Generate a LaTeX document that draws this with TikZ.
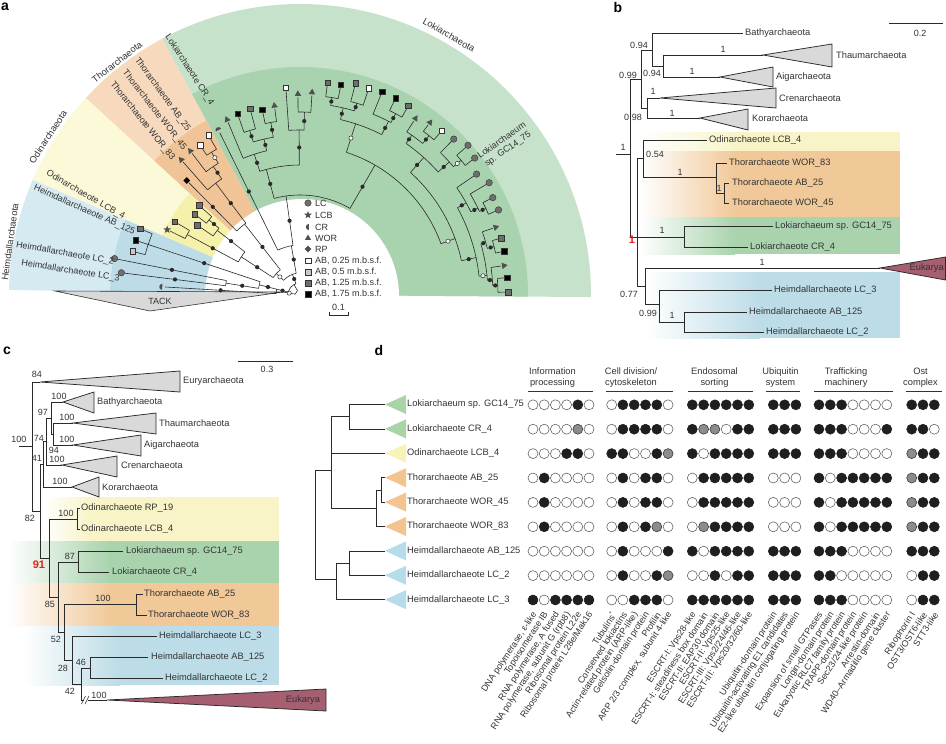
\documentclass[tikz,border=0pt]{standalone}
\usepackage{fontspec}
\setmainfont{Liberation Sans}
\usetikzlibrary{shapes.geometric}
\definecolor{ink}{HTML}{333333}
\definecolor{treeink}{HTML}{2A2A2A}
\definecolor{gL}{HTML}{C7E2CB}
\definecolor{gD}{HTML}{A8D3AE}
\definecolor{oL}{HTML}{F7DABE}
\definecolor{oD}{HTML}{F0C496}
\definecolor{yL}{HTML}{FBF9D8}
\definecolor{yD}{HTML}{F6F1AA}
\definecolor{bL}{HTML}{D6EAF2}
\definecolor{bD}{HTML}{BDDCE8}
\definecolor{bandY}{HTML}{F8F4C8}
\definecolor{bandO}{HTML}{F1C999}
\definecolor{bandG}{HTML}{A9D3AD}
\definecolor{bandB}{HTML}{BCDCE7}
\definecolor{trigrey}{HTML}{D9D9D9}
\definecolor{euk}{HTML}{A65F70}
\definecolor{symgrey}{HTML}{6E6E6E}
\definecolor{symdark}{HTML}{505050}
\definecolor{sqL}{HTML}{C9C9C9}
\definecolor{sqD}{HTML}{6E6E6E}
\definecolor{dG}{HTML}{A8D4A8}
\definecolor{dY}{HTML}{F8F3B8}
\definecolor{dO}{HTML}{F3C48F}
\definecolor{dB}{HTML}{B7DCE9}
\definecolor{redlab}{HTML}{E0201C}
\tikzset{
  tl/.style={draw=treeink, line width=0.6pt},
  br/.style={draw=treeink, line width=0.75pt},
  clade/.style={draw=treeink, line width=0.75pt, fill=trigrey},
  lbl/.style={font=\fontsize{9.3}{11}\selectfont, text=ink, inner sep=0pt},
  lbla/.style={font=\fontsize{9}{10.5}\selectfont, text=ink, inner sep=0pt},
  num/.style={font=\fontsize{9}{10}\selectfont, text=ink, inner sep=0pt},
  rednum/.style={font=\fontsize{11}{11}\selectfont\bfseries, text=redlab, inner sep=0pt},
  plet/.style={font=\fontsize{14}{14}\selectfont\bfseries, inner sep=0pt},
  symC/.style={circle, fill=symgrey, draw=ink, line width=0.4pt, inner sep=0pt, minimum size=6.5},
  symS/.style={rectangle, draw=ink, line width=0.4pt, inner sep=0pt, minimum size=5.5},
  symT/.style={regular polygon, regular polygon sides=3, fill=symdark, inner sep=0pt, minimum size=7.5},
  symD/.style={diamond, fill=black, inner sep=0pt, minimum size=7},
  symStar/.style={star, star points=5, star point ratio=2.3, fill=symdark, inner sep=0pt, minimum size=8},
  dotO/.style={circle, draw=ink!80, fill=white, line width=0.55pt, inner sep=0pt, minimum size=10},
  dotB/.style={circle, draw=black!88, fill=black!88, line width=0.55pt, inner sep=0pt, minimum size=10},
  dotG/.style={circle, draw=ink, fill=black!45, line width=0.55pt, inner sep=0pt, minimum size=10},
  hline/.style={draw=ink, line width=1pt},
}
\newcommand\fan[4]{\fill[#1] (0,0) -- (#2:#4) arc[start angle=#2,end angle=#3,radius=#4] -- cycle;}
\newcommand\tArc[3]{\draw[tl] (#1:#3) arc[start angle=#1,end angle=#2,radius=#3];}
\newcommand\tRad[3]{\draw[tl] (#1:#2) -- (#1:#3);}
\newcommand\tRadB[3]{\draw[tl] (#1:#2) -- (#1:#3); \fill[treeink] (#1:{(#2+#3)/2}) circle (2.1);}
\newcommand\tRadW[3]{\draw[tl] (#1:#2) -- (#1:#3); \filldraw[fill=white,draw=treeink,line width=0.5pt] (#1:{(#2+#3)/2}) circle (2.1);}
\newcommand\tipC[2]{\node[symC] at (#1:#2) {};}
\newcommand\tipS[3]{\node[symS, fill=#3] at (#1:#2) {};}
\newcommand\tipT[2]{\node[symT, rotate=#1-90] at (#1:#2) {};}
\newcommand\tipD[2]{\node[symD] at (#1:#2) {};}
\newcommand\tipStar[2]{\node[symStar] at (#1:#2) {};}
\newcommand\tipCR[2]{\begin{scope}[shift={(#1:#2)}, rotate=#1-180]\fill[symdark] (0,3) arc[start angle=90,end angle=270,radius=3] -- cycle;\end{scope}}
\begin{document}
\begin{tikzpicture}[x=1pt,y=1pt]
\useasboundingbox (0,0) rectangle (946,-744);
\fill[white] (0,0) rectangle (946,-744);

%% ================= panel a =================
\node[plet] (la) at (5,-7) {a};
\begin{scope}[shift={(300,-295)}]
  \fan{gL}{-0.4}{118.3}{291}
  \fan{gD}{-0.4}{118.3}{228}
  \fan{oL}{118.3}{137.4}{291}
  \fan{oD}{118.3}{137.4}{198}
  \fan{yL}{137.4}{156.7}{291}
  \fan{yD}{137.4}{156.7}{150}
  \fan{bL}{156.7}{179}{291}
  \fan{bD}{156.7}{179}{190}
  \fill[white] (2,-1) circle (97);
\end{scope}
\filldraw[fill=trigrey, draw=ink, line width=0.6pt] (55,-291) -- (150,-311) -- (283,-292) -- cycle;
\node[lbla] (tack) at (160,-301) {TACK};

\begin{scope}[shift={(300,-295)}]
  % root and deep nodes
  \tArc{120}{170}{5}
  \tRadW{170}{5}{17}
  \tRad{120}{5}{12}
  \tArc{110}{166}{12}
  % Heimdall
  \tRadB{166}{12}{24}
  \tArc{166}{176.6}{24}
  \tRadB{176.6}{24}{135}
  \tRadB{166}{24}{42}
  \tArc{161.6}{170.9}{42}
  \tRadB{170.9}{42}{75}
  \tArc{168.9}{172.9}{75}
  \tRadB{168.9}{75}{186}
  \tRadB{172.9}{75}{177}
  \tRadB{161.6}{42}{160}
  \tArc{157.5}{165.4}{160}
  \tRad{157.5}{160}{170} \tRad{161.6}{160}{170} \tRad{165.4}{160}{170}
  % Odin + Thor
  \tRadB{110}{12}{22}
  \tArc{100}{138}{22}
  \tRadW{138}{22}{32}
  \tArc{128}{147}{32}
  \tRadB{147}{32}{70}
  \tArc{142}{151.8}{70}
  \tRadB{151.8}{70}{128}
  \tArc{149.7}{153.8}{128}
  \tRad{153.8}{128}{145} \tRad{149.7}{128}{142}
  \tRadB{142}{70}{105}
  \tArc{140.5}{145.8}{105}
  \tRad{145.8}{105}{121}
  \tRadB{140.5}{105}{118}
  \tArc{138.4}{142.5}{118}
  \tRad{142.5}{118}{130} \tRad{138.4}{118}{132}
  \tRadB{128}{32}{90}
  \tArc{127}{134.7}{90}
  \tRadB{134.7}{90}{158}
  \tRadB{127}{90}{140}
  \tArc{124}{131.3}{140}
  \tRad{131.3}{140}{177}
  \tRadB{124}{140}{155}
  \tArc{121.8}{127.3}{155}
  \tRad{127.3}{155}{178}
  \tRadW{121.8}{155}{168}
  \tArc{119.8}{123.7}{168}
  \tRad{123.7}{168}{177} \tRad{119.8}{168}{181}
  % Loki
  \tRadB{100}{22}{50}
  \tArc{98}{116.3}{50}
  \tRadB{116.3}{50}{181}
  \tRadB{98}{50}{100}
  \tArc{60}{105}{100}
  \tRadB{105}{100}{130}
  \tArc{90.3}{108}{130}
  \tRadB{108}{130}{148}
  \tArc{103}{112.6}{148}
  \tRad{112.6}{148}{187}
  \tRadB{103}{148}{160}
  \tArc{99.6}{107}{160}
  \tRadB{107}{160}{172}
  \tArc{105}{109}{172}
  \tRad{109}{172}{189} \tRad{105}{172}{190}
  \tRadB{99.6}{160}{175}
  \tArc{97.7}{101.5}{175}
  \tRad{101.5}{175}{186} \tRad{97.7}{175}{188}
  \tRadB{90.3}{130}{165}
  \tArc{88.6}{93.9}{165}
  \tRad{93.9}{165}{205}
  \tRadB{88.6}{165}{183}
  \tArc{86.6}{90.6}{183}
  \tRad{90.6}{183}{198} \tRad{86.6}{183}{200}
  \tRadB{60}{100}{150}
  \tArc{20}{72}{150}
  \tRadW{72}{150}{180}
  \tArc{63}{77}{180}
  \tRadB{77}{180}{192}
  \tArc{73.5}{80.8}{192}
  \tRadB{80.8}{192}{200}
  \tArc{79}{82.6}{200}
  \tRad{82.6}{200}{211} \tRad{79}{200}{211}
  \tRadB{73.5}{192}{200}
  \tArc{71.6}{75.3}{200}
  \tRad{75.3}{200}{216} \tRad{71.6}{200}{215}
  \tRadB{63}{180}{195}
  \tArc{62.2}{68}{195}
  \tRad{68}{195}{216}
  \tRadB{62.2}{195}{205}
  \tArc{60.2}{64.1}{205}
  \tRad{64.1}{205}{216} \tRad{60.2}{205}{215}
  \tRadW{20}{150}{165}
  \tArc{12}{48}{165}
  \tRadB{48}{165}{185}
  \tArc{41.7}{55}{185}
  \tRadB{55}{185}{195}
  \tArc{51}{56.8}{195}
  \tRad{56.8}{195}{208}
  \tRadB{51}{195}{205}
  \tArc{49.2}{53}{205}
  \tRad{53}{205}{213} \tRad{49.2}{205}{214}
  \tRadB{41.7}{185}{200}
  \tArc{39.9}{45.4}{200}
  \tRad{45.4}{200}{216}
  \tRadW{39.9}{200}{210}
  \tArc{38.1}{41.7}{210}
  \tRad{41.7}{210}{222} \tRad{38.1}{210}{219}
  \tRadB{12}{165}{180}
  \tArc{6}{29}{180}
  \tRadB{29}{180}{190}
  \tArc{26}{34.4}{190}
  \tRad{34.4}{190}{211}
  \tRadB{26}{190}{198}
  \tArc{25}{30.7}{198}
  \tRad{30.7}{198}{217}
  \tRadB{25}{198}{205}
  \tArc{23.2}{26.8}{205}
  \tRad{26.8}{205}{213} \tRad{23.2}{205}{213}
  \tRadW{6}{180}{188}
  \tArc{4.5}{15.8}{188}
  \tRadB{15.8}{188}{193}
  \tArc{14}{19.1}{193}
  \tRad{19.1}{193}{204}
  \tRadB{14}{193}{200}
  \tArc{12.1}{15.8}{200}
  \tRad{15.8}{200}{206} \tRad{12.1}{200}{206}
  \tRadB{4.5}{188}{193}
  \tArc{2.8}{8.2}{193}
  \tRad{8.2}{193}{203}
  \tRadB{2.8}{193}{198}
  \tArc{0.8}{4.8}{198}
  \tRad{4.8}{198}{205} \tRad{0.8}{198}{205}
  % tips
  \tipCR{176.6}{138}
  \tipC{172.9}{180} \tipC{168.9}{189}
  \tipS{165.4}{173}{sqL} \tipS{161.6}{173}{black} \tipS{157.5}{173}{sqD}
  \tipStar{153.8}{148}
  \tipS{149.7}{145}{sqD} \tipS{145.8}{124}{sqD} \tipS{142.5}{133}{sqD} \tipS{138.4}{135}{sqD}
  \tipD{134.7}{161}
  \tipT{131.3}{180} \tipT{127.3}{181}
  \tipS{123.7}{180}{white} \tipS{119.8}{184}{white}
  \tipCR{116.3}{184}
  \tipT{112.6}{190}
  \tipS{109}{192}{black} \tipS{105}{193}{sqD} \tipS{101.5}{189}{black}
  \tipT{97.7}{191}
  \tipS{93.9}{208}{white}
  \tipT{90.6}{201} \tipT{86.6}{203}
  \tipS{82.6}{214}{sqD} \tipS{79}{214}{black} \tipS{75.3}{219}{sqD} \tipS{71.6}{218}{white}
  \tipS{68}{219}{black} \tipS{64.1}{219}{black} \tipS{60.2}{218}{sqD}
  \tipT{56.8}{211} \tipT{53}{216} \tipS{49.2}{217}{white}
  \tipC{45.4}{219} \tipC{41.7}{225} \tipC{38.1}{222}
  \tipC{34.4}{214} \tipC{30.7}{220} \tipC{26.8}{216} \tipC{23.2}{216}
  \tipT{19.1}{207} \tipS{15.8}{209}{sqD} \tipS{12.1}{209}{black}
  \tipT{8.2}{206} \tipS{4.8}{208}{black} \tipS{0.8}{208}{sqD}
\end{scope}

% clade labels (panel a)
\node[lbl, rotate=82] (aHeim) at (10,-242) {Heimdallarchaeota};
\node[lbl, rotate=57] (aOdin) at (48,-137) {Odinarchaeota};
\node[lbl, rotate=38] (aThor) at (117,-62) {Thorarchaeota};
\node[lbl, rotate=-30] (aLoki) at (449,-35) {Lokiarchaeota};
% tip labels (panel a)
\node[lbla, rotate=-57] (aCR4) at (189.5,-70) {Lokiarchaeote CR\_4};
\node[lbla, rotate=-54] (aAB25) at (162.5,-94.5) {Thorarchaeote AB\_25};
\node[lbla, rotate=-52] (aW45) at (154.5,-110) {Thorarchaeote WOR\_45};
\node[lbla, rotate=-51.5] (aW83) at (142.5,-121) {Thorarchaeote WOR\_83};
\node[lbla, rotate=-30] (aLCB) at (85.5,-195) {Odinarchaeote LCB\_4};
\node[lbla, rotate=-24] (aAB125) at (84.5,-210) {Heimdallarchaeote AB\_125};
\node[lbla, rotate=-10] (aLC2) at (65,-253.5) {Heimdallarchaeote LC\_2};
\node[lbla, rotate=-9] (aLC3) at (70.5,-271) {Heimdallarchaeote LC\_3};
\node[lbla, rotate=35, align=center] (aGC) at (505,-145) {Lokiarchaeum\\sp. GC14\_75};
% legend
\node[symC] (k1) at (308,-203) {};
\node[symStar] (k2) at (308,-215) {};
\begin{scope}[shift={(308,-227)}]\fill[symdark] (0.8,3) arc[start angle=90,end angle=270,radius=3] -- cycle;\end{scope}
\node[symT, minimum size=7] (k4) at (308,-238) {};
\node[diamond, fill=symdark, inner sep=0pt, minimum size=7] (k5) at (308,-249) {};
\node[symS, fill=white] (k6) at (308,-260.5) {};
\node[symS, fill=sqL] (k7) at (308,-272) {};
\node[symS, fill=sqD] (k8) at (308,-283) {};
\node[symS, fill=black] (k9) at (308,-294) {};
\node[lbla, anchor=west] at (315,-203) {LC};
\node[lbla, anchor=west] at (315,-215) {LCB};
\node[lbla, anchor=west] at (315,-227) {CR};
\node[lbla, anchor=west] at (315,-238) {WOR};
\node[lbla, anchor=west] at (315,-249) {RP};
\node[lbla, anchor=west] at (315,-260.5) {AB, 0.25 m.b.s.f.};
\node[lbla, anchor=west] at (315,-272) {AB, 0.5 m.b.s.f.};
\node[lbla, anchor=west] at (315,-283) {AB, 1.25 m.b.s.f.};
\node[lbla, anchor=west] at (315,-294) {AB, 1.75 m.b.s.f.};
\draw[br, line width=0.7pt] (329,-312) -- (329,-315) -- (348,-315) -- (348,-312);
\node[num] (sa) at (338.5,-307) {0.1};

%% ================= panel b =================
\node[plet] (lb) at (618,-7) {b};
\draw[br] (889,-23) -- (943,-23);
\node[num] (sb) at (920,-33) {0.2};
% bands
\shade[left color=white, right color=bandY] (640,-132) rectangle (735,-151);
\fill[bandY] (734.5,-132) rectangle (900,-151);
\shade[left color=white, right color=bandO] (640,-151) rectangle (735,-217);
\fill[bandO] (734.5,-151) rectangle (900,-217);
\shade[left color=white, right color=bandG] (640,-217) rectangle (735,-254);
\fill[bandG] (734.5,-217) rectangle (900,-254);
\shade[left color=white, right color=bandB] (645,-272) rectangle (760,-338);
\fill[bandB] (759.5,-272) rectangle (900,-338);
% tree
\draw[br] (616,-154) -- (630,-154);
\draw[br] (630,-79) -- (630,-237) -- (637,-237);
\draw[br] (630,-79) -- (641,-79);
\draw[br] (641,-50) -- (641,-108);
\draw[br] (641,-50) -- (652,-50); \draw[br] (652,-33) -- (652,-66);
\draw[br] (652,-33) -- (743,-33);
\draw[br] (652,-66) -- (663,-66); \draw[br] (663,-55) -- (663,-77);
\draw[br] (663,-55) -- (763,-55); \filldraw[clade] (763,-55) -- (832,-44) -- (832,-67) -- cycle;
\draw[br] (663,-77) -- (720,-77); \filldraw[clade] (720,-77) -- (773,-67) -- (773,-87) -- cycle;
\draw[br] (641,-108) -- (647,-108); \draw[br] (647,-98) -- (647,-118);
\draw[br] (647,-98) -- (660,-98); \filldraw[clade] (660,-98) -- (776,-88) -- (776,-108) -- cycle;
\draw[br] (647,-118) -- (700,-118); \filldraw[clade] (700,-118) -- (748,-109) -- (748,-130) -- cycle;
\draw[br] (637,-158) -- (637,-286);
\draw[br] (637,-158) -- (643,-158); \draw[br] (643,-140) -- (643,-177);
\draw[br] (643,-140) -- (707,-140);
\draw[br] (643,-177) -- (716,-177); \draw[br] (716,-163) -- (716,-193);
\draw[br] (716,-163) -- (727,-163);
\draw[br] (716,-193) -- (724,-193); \draw[br] (724,-183) -- (724,-203);
\draw[br] (724,-183) -- (729,-183); \draw[br] (724,-203) -- (729,-203);
\draw[br] (637,-237) -- (684,-237); \draw[br] (684,-226) -- (684,-247);
\draw[br] (684,-226) -- (773,-226); \draw[br] (684,-247) -- (748,-247);
\draw[br] (637,-286) -- (645,-286); \draw[br] (645,-268) -- (645,-304);
\draw[br] (645,-268) -- (880,-268);
\filldraw[draw=treeink, line width=0.75pt, fill=euk] (880,-268) -- (945.5,-257) -- (945.5,-280) -- cycle;
\draw[br] (645,-304) -- (659,-304); \draw[br] (659,-290) -- (659,-322);
\draw[br] (659,-290) -- (772,-290);
\draw[br] (659,-322) -- (684,-322); \draw[br] (684,-312) -- (684,-332);
\draw[br] (684,-312) -- (747,-312); \draw[br] (684,-332) -- (764,-332);
% labels
\node[lbl, anchor=west] at (745,-33) {Bathyarchaeota};
\node[lbl, anchor=west] at (836,-55) {Thaumarchaeota};
\node[lbl, anchor=west] at (776,-77) {Aigarchaeota};
\node[lbl, anchor=west] at (779,-98) {Crenarchaeota};
\node[lbl, anchor=west] at (752,-118) {Korarchaeota};
\node[lbl, anchor=west] at (709,-140) {Odinarchaeote LCB\_4};
\node[lbl, anchor=west] at (729,-163) {Thorarchaeote WOR\_83};
\node[lbl, anchor=west] at (732,-183) {Thorarchaeote AB\_25};
\node[lbl, anchor=west] at (732,-203) {Thorarchaeote WOR\_45};
\node[lbl, anchor=west] at (775,-226) {Lokiarchaeum sp. GC14\_75};
\node[lbl, anchor=west] at (750,-247) {Lokiarchaeote CR\_4};
\node[lbl, anchor=east] at (944,-268) {Eukarya};
\node[lbl, anchor=west] at (774,-290) {Heimdallarchaeote LC\_3};
\node[lbl, anchor=west] at (749,-312) {Heimdallarchaeote AB\_125};
\node[lbl, anchor=west] at (766,-332) {Heimdallarchaeote LC\_2};
\node[num] at (623,-147) {1};
\node[num] at (639,-45) {0.94};
\node[num] at (628,-75) {0.99};
\node[num] at (652,-73) {0.94};
\node[num] at (723,-49) {1};
\node[num] at (692,-71) {1};
\node[num] at (653,-91) {1};
\node[num] at (633,-117) {0.98};
\node[num] at (672,-113) {1};
\node[num] at (655,-154) {0.54};
\node[num] at (680,-172) {1};
\node[num] at (719,-188) {1};
\node[num] at (662,-230) {1};
\node[rednum] at (632,-240) {1};
\node[num] at (629,-294) {0.77};
\node[num] at (762,-262) {1};
\node[num] at (648,-313) {0.99};
\node[num] at (672,-315) {1};

%% ================= panel c =================
\node[plet] (lc) at (7,-351) {c};
\draw[br] (238,-361) -- (293,-361);
\node[num] (sc) at (267,-369) {0.3};
% bands
\shade[left color=white, right color=bandY] (43,-497) rectangle (90,-541);
\fill[bandY] (89.5,-497) rectangle (279,-541);
\shade[left color=white, right color=bandG] (8,-541) rectangle (110,-583);
\fill[bandG] (109.5,-541) rectangle (279,-583);
\shade[left color=white, right color=bandO] (8,-583) rectangle (110,-626);
\fill[bandO] (109.5,-583) rectangle (279,-626);
\shade[left color=white, right color=bandB] (23,-626) rectangle (120,-685);
\fill[bandB] (119.5,-626) rectangle (279,-685);
% tree
\draw[br] (19,-446) -- (32,-446);
\draw[br] (32,-382) -- (32,-511);
\draw[br] (32,-382) -- (40,-382); \filldraw[clade] (40,-382) -- (180,-371) -- (180,-392) -- cycle;
\draw[br] (32,-511) -- (40,-511); \draw[br] (40,-464) -- (40,-558);
\draw[br] (40,-464) -- (43,-464); \draw[br] (43,-441) -- (43,-487);
\draw[br] (43,-487) -- (72,-487); \filldraw[clade] (72,-487) -- (99,-477) -- (99,-497) -- cycle;
\draw[br] (43,-441) -- (46,-441); \draw[br] (46,-418) -- (46,-465);
\draw[br] (46,-465) -- (62,-465); \filldraw[clade] (62,-465) -- (117,-456) -- (117,-477) -- cycle;
\draw[br] (46,-418) -- (51,-418); \draw[br] (51,-402) -- (51,-434);
\draw[br] (51,-402) -- (63,-402); \filldraw[clade] (63,-402) -- (94,-392) -- (94,-413) -- cycle;
\draw[br] (51,-434) -- (53,-434); \draw[br] (53,-423) -- (53,-445);
\draw[br] (53,-423) -- (73,-423); \filldraw[clade] (73,-423) -- (156,-413) -- (156,-434) -- cycle;
\draw[br] (53,-445) -- (73,-445); \filldraw[clade] (73,-445) -- (141,-435) -- (141,-456) -- cycle;
\draw[br] (40,-558) -- (49,-558); \draw[br] (49,-519) -- (49,-597);
\draw[br] (49,-519) -- (77,-519); \draw[br] (77,-508) -- (77,-529);
\draw[br] (77,-508) -- (80,-508); \draw[br] (77,-529) -- (80,-529);
\draw[br] (49,-597) -- (58,-597); \draw[br] (58,-562) -- (58,-632);
\draw[br] (58,-562) -- (78,-562); \draw[br] (78,-551) -- (78,-572);
\draw[br] (78,-551) -- (123,-551); \draw[br] (78,-572) -- (109,-572);
\draw[br] (58,-632) -- (64,-632); \draw[br] (64,-604) -- (64,-660);
\draw[br] (64,-604) -- (136,-604); \draw[br] (136,-594) -- (136,-615);
\draw[br] (136,-594) -- (143,-594); \draw[br] (136,-615) -- (147,-615);
\draw[br] (64,-660) -- (72,-660); \draw[br] (72,-636) -- (72,-684);
\draw[br] (72,-636) -- (157,-636);
\draw[br] (72,-684) -- (81,-684); \draw[br] (81,-668) -- (81,-700);
\draw[br] (81,-668) -- (90,-668); \draw[br] (90,-657) -- (90,-678);
\draw[br] (90,-657) -- (148,-657); \draw[br] (90,-678) -- (163,-678);
\draw[br] (81,-700) -- (107,-700);
\fill[white] (84,-697) rectangle (87.5,-703);
\draw[br, line width=0.6pt] (81.5,-704) -- (85.5,-696); \draw[br, line width=0.6pt] (85,-704) -- (89,-696);
\filldraw[draw=treeink, line width=0.75pt, fill=euk] (107,-700) -- (326,-689) -- (326,-711) -- cycle;
% labels
\node[lbl, anchor=west] at (183,-381) {Euryarchaeota};
\node[lbl, anchor=west] at (97,-402) {Bathyarchaeota};
\node[lbl, anchor=west] at (159,-423) {Thaumarchaeota};
\node[lbl, anchor=west] at (144,-445) {Aigarchaeota};
\node[lbl, anchor=west] at (121,-465) {Crenarchaeota};
\node[lbl, anchor=west] at (102,-487) {Korarchaeota};
\node[lbl, anchor=west] at (81,-508) {Odinarchaeote RP\_19};
\node[lbl, anchor=west] at (81,-529) {Odinarchaeote LCB\_4};
\node[lbl, anchor=west] at (126,-551) {Lokiarchaeum sp. GC14\_75};
\node[lbl, anchor=west] at (112,-572) {Lokiarchaeote CR\_4};
\node[lbl, anchor=west] at (144,-594) {Thorarchaeote AB\_25};
\node[lbl, anchor=west] at (148,-615) {Thorarchaeote WOR\_83};
\node[lbl, anchor=west] at (159,-636) {Heimdallarchaeote LC\_3};
\node[lbl, anchor=west] at (151,-657) {Heimdallarchaeote AB\_125};
\node[lbl, anchor=west] at (165,-678) {Heimdallarchaeote LC\_2};
\node[lbl] at (303,-700) {Eukarya};
\node[num] at (19,-439) {100};
\node[num] at (37,-374) {84};
\node[num] at (30,-518) {82};
\node[num] at (37,-458) {41};
\node[num] at (60,-481) {100};
\node[num] at (39,-438) {74};
\node[num] at (57,-459) {100};
\node[num] at (43,-412) {97};
\node[num] at (59,-396) {100};
\node[num] at (54,-450) {94};
\node[num] at (67,-417) {100};
\node[num] at (67,-439) {100};
\node[rednum] at (39,-565) {91};
\node[num] at (66,-513) {100};
\node[num] at (50,-604) {85};
\node[num] at (70,-556) {87};
\node[num] at (56,-639) {52};
\node[num] at (103,-598) {100};
\node[num] at (63,-668) {28};
\node[num] at (70,-691) {42};
\node[num] at (81,-662) {46};
\node[num] at (99,-695) {100};

%% ================= panel d =================
\node[plet] (ld) at (379,-350) {d};
% tree
\draw[br] (349,-404.5) -- (349,-428.9);
\draw[br] (349,-404.5) -- (385,-404.5); \draw[br] (349,-428.9) -- (385,-428.9);
\draw[br] (331,-453.3) -- (385,-453.3);
\draw[br] (381,-477.7) -- (381,-502.1);
\draw[br] (381,-477.7) -- (385,-477.7); \draw[br] (381,-502.1) -- (385,-502.1);
\draw[br] (376,-489.9) -- (376,-526.5);
\draw[br] (376,-489.9) -- (381,-489.9); \draw[br] (376,-526.5) -- (385,-526.5);
\draw[br] (331,-508.2) -- (376,-508.2);
\draw[br] (331,-416.7) -- (331,-508.2);
\draw[br] (331,-416.7) -- (349,-416.7);
\draw[br] (315,-470) -- (315,-579);
\draw[br] (315,-470) -- (331,-470);
\draw[br] (349,-550.9) -- (349,-575.3);
\draw[br] (349,-550.9) -- (385,-550.9); \draw[br] (349,-575.3) -- (385,-575.3);
\draw[br] (336,-563.1) -- (336,-599.7);
\draw[br] (336,-563.1) -- (349,-563.1);
\draw[br] (336,-599.7) -- (385,-599.7);
\draw[br] (315,-579) -- (336,-579);
% triangles and names
\foreach \nm/\cl [count=\i] in {Lokiarchaeum sp. GC14\_75/dG, Lokiarchaeote CR\_4/dG, Odinarchaeote LCB\_4/dY, Thorarchaeote AB\_25/dO, Thorarchaeote WOR\_45/dO, Thorarchaeote WOR\_83/dO, Heimdallarchaeote AB\_125/dB, Heimdallarchaeote LC\_2/dB, Heimdallarchaeote LC\_3/dB}{
  \pgfmathsetmacro\ry{404.5+24.4*(\i-1)}
  \fill[\cl] (385,-\ry) -- (406,-\ry+9.5) -- (406,-\ry-9.5) -- cycle;
  \node[lbl, anchor=west] (dn\i) at (407,-\ry) {\nm};
}
% headers
\node[lbl, align=center] (h1) at (552.5,-377.5) {Information\\processing};
\node[lbl, align=center] (h2) at (631,-377.5) {Cell division/\\cytoskeleton};
\node[lbl, align=center] (h3) at (714.5,-377.5) {Endosomal\\sorting};
\node[lbl, align=center] (h4) at (780.5,-377.5) {Ubiquitin\\system};
\node[lbl, align=center] (h5) at (846,-377.5) {Trafficking\\machinery};
\node[lbl, align=center] (h6) at (920.5,-377.5) {Ost\\complex};
\draw[hline] (528,-391) -- (593,-391);
\draw[hline] (606,-391) -- (673,-391);
\draw[hline] (688,-391) -- (753,-391);
\draw[hline] (766,-391) -- (800,-391);
\draw[hline] (814,-391) -- (893,-391);
\draw[hline] (906,-391) -- (942,-391);
% dot matrix
\foreach \row [count=\i] in {
 {0,0,0,0,1,0, 0,1,1,1,1,0, 1,1,1,1,1,1, 1,1,1, 1,1,1,0,0,0,0, 1,1,1},
 {0,0,0,0,2,0, 0,1,1,1,1,0, 1,2,2,0,1,1, 1,1,1, 1,1,1,0,0,0,1, 1,1,0},
 {0,0,0,1,1,0, 1,1,0,0,1,2, 1,0,1,1,1,1, 1,1,1, 1,1,1,0,0,0,0, 2,1,1},
 {0,1,0,0,0,0, 0,1,0,1,1,0, 0,1,1,1,1,1, 0,0,0, 1,0,1,1,1,1,1, 2,1,1},
 {0,1,0,0,0,0, 0,1,0,1,1,0, 0,1,1,1,1,1, 0,0,0, 1,0,1,1,1,1,1, 2,1,1},
 {0,1,0,0,0,0, 0,1,0,1,2,0, 0,2,1,1,1,1, 0,0,0, 1,0,1,1,1,1,1, 2,1,1},
 {0,0,0,0,0,0, 0,1,0,0,0,1, 1,0,1,1,1,1, 1,1,1, 1,1,1,0,0,0,0, 1,1,1},
 {0,0,0,0,0,0, 0,1,0,0,1,2, 0,0,1,0,1,1, 1,1,1, 1,1,0,0,0,0,0, 0,1,1},
 {1,0,1,1,1,1, 0,0,1,1,1,0, 1,1,1,1,1,1, 1,1,1, 1,1,1,0,0,0,0, 0,1,1}}{
  \foreach \v [count=\j] in \row {
    \pgfmathsetmacro\cx{{533,544.2,555.4,566.6,577.8,589,611.7,622.9,634.2,645.5,656.8,668.1,692.3,703.6,714.9,726.2,737.5,748.8,773.3,784.6,795.9,819,830.3,841.6,852.9,864.2,875.5,886.8,911.7,923,934.3}[\j-1]}
    \pgfmathsetmacro\cy{404.8+24.4*(\i-1)}
    \ifcase\v\relax
      \node[dotO] at (\cx,-\cy) {};
    \or
      \node[dotB] at (\cx,-\cy) {};
    \or
      \node[dotG] at (\cx,-\cy) {};
    \fi
  }
}
% column labels
\foreach \lab [count=\j] in {{DNA polymerase, ε-like}, {Topoisomerase IB}, {RNA polymerase, A fused}, {RNA polymerase, subunit G (rpb8)}, {Ribosomal protein L22e}, {Ribosomal protein L28e/Mak16},
  {Tubulins\textsuperscript{*}}, {Conserved lokiactins}, {Actin-related protein (ARP-like)}, {Gelsolin-domain protein}, {Profilin}, {ARP 2/3 complex, subunit 4-like},
  {ESCRT-I: Vps28-like}, {ESCRT-I: steadiness box domain}, {ESCRT-II: EAP30 domain}, {ESCRT-II: Vps25-like}, {ESCRT-III: Vps2/24/46-like}, {ESCRT-III: Vps20/32/60-like},
  {Ubiquitin-domain protein}, {Ubiquitin-activating E1 candidates}, {E2-like ubiquitin conjugating protein},
  {Expansion of small GTPases}, {Longin-domain protein}, {Eukaryotic RLC7 family protein}, {TRAPP-domain protein}, {Sec23/24-like protein}, {Arrestin-domain}, {WD40--Armadillo gene cluster},
  {Ribophorin I}, {OST3/OST6-like}, {STT3-like}}{
  \pgfmathsetmacro\cx{{533,544.2,555.4,566.6,577.8,589,611.7,622.9,634.2,645.5,656.8,668.1,692.3,703.6,714.9,726.2,737.5,748.8,773.3,784.6,795.9,819,830.3,841.6,852.9,864.2,875.5,886.8,911.7,923,934.3}[\j-1]}
  \node[lbla, rotate=57, anchor=east] at (\cx+2,-613) {\lab};
}
\end{tikzpicture}
\end{document}
